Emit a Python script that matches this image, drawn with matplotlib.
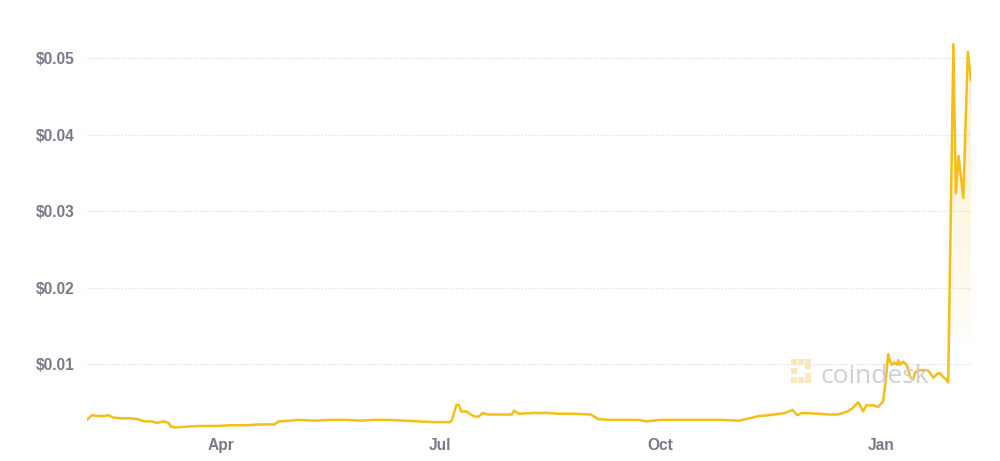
import numpy as np
import pandas as pd
import matplotlib
matplotlib.use("Agg")
import matplotlib.pyplot as plt
import matplotlib.dates as mdates
from matplotlib.patches import Rectangle
from matplotlib.ticker import FixedLocator, FuncFormatter

# price history
dates = [
    "2023-02-04", "2023-02-05", "2023-02-06", "2023-02-09", "2023-02-11", "2023-02-13",
    "2023-02-15", "2023-02-18", "2023-02-22", "2023-02-25", "2023-02-28", "2023-03-03",
    "2023-03-05", "2023-03-08", "2023-03-10", "2023-03-11", "2023-03-13", "2023-03-17",
    "2023-03-23", "2023-03-30", "2023-04-05", "2023-04-11", "2023-04-17", "2023-04-23",
    "2023-04-25", "2023-04-30", "2023-05-03", "2023-05-10", "2023-05-16", "2023-05-23",
    "2023-05-29", "2023-06-04", "2023-06-10", "2023-06-16", "2023-06-22", "2023-06-29",
    "2023-07-05", "2023-07-06", "2023-07-08", "2023-07-09", "2023-07-10", "2023-07-12",
    "2023-07-15", "2023-07-17", "2023-07-19", "2023-07-21", "2023-07-26", "2023-07-31",
    "2023-08-01", "2023-08-03", "2023-08-09", "2023-08-15", "2023-08-20", "2023-08-26",
    "2023-09-02", "2023-09-05", "2023-09-10", "2023-09-16", "2023-09-22", "2023-09-25",
    "2023-10-01", "2023-10-09", "2023-10-18", "2023-10-26", "2023-11-03", "2023-11-11",
    "2023-11-15", "2023-11-22", "2023-11-25", "2023-11-27", "2023-11-29", "2023-12-06",
    "2023-12-10", "2023-12-14", "2023-12-18", "2023-12-20", "2023-12-22 10:00",
    "2023-12-24 12:00", "2023-12-25 18:00", "2023-12-28 16:00", "2023-12-30 18:00",
    "2024-01-01 19:00", "2024-01-03 00:00", "2024-01-03 22:00", "2024-01-04 18:00",
    "2024-01-05 14:00", "2024-01-06 10:00", "2024-01-07 17:00", "2024-01-08 02:00",
    "2024-01-08 22:00", "2024-01-10 05:00", "2024-01-11 19:00", "2024-01-13 02:00",
    "2024-01-14 07:00", "2024-01-15 05:00", "2024-01-16 10:00", "2024-01-20 05:00",
    "2024-01-21 00:00", "2024-01-22 17:00", "2024-01-24 07:00", "2024-01-25 14:00",
    "2024-01-26 19:00", "2024-01-28 02:00", "2024-01-28 22:00", "2024-01-31 02:00",
    "2024-02-01 02:00", "2024-02-02 05:00", "2024-02-04 05:00", "2024-02-06 02:00",
    "2024-02-07 10:00",
]
prices = [
    0.0027, 0.0030, 0.0033, 0.0032, 0.0032, 0.0033,
    0.0030, 0.0029, 0.0029, 0.0028, 0.0025, 0.0025,
    0.0023, 0.0025, 0.0023, 0.0018, 0.0017, 0.0018,
    0.0019, 0.0019, 0.0020, 0.0020, 0.0021, 0.0021,
    0.0025, 0.0026, 0.0027, 0.0026, 0.0027, 0.0027,
    0.0026, 0.0027, 0.0027, 0.0026, 0.0025, 0.0024,
    0.0024, 0.0026, 0.0047, 0.0046, 0.0038, 0.0038,
    0.0032, 0.0031, 0.0036, 0.0034, 0.0034, 0.0034,
    0.0039, 0.0035, 0.0036, 0.0036, 0.0035, 0.0035,
    0.0034, 0.0028, 0.0027, 0.0027, 0.0027, 0.0025,
    0.0027, 0.0027, 0.0027, 0.0027, 0.0026, 0.0032,
    0.0033, 0.0036, 0.0040, 0.0033, 0.0036, 0.0035,
    0.0034, 0.0034, 0.0038, 0.0042, 0.0050,
    0.0038, 0.0046, 0.0046, 0.0044,
    0.0051, 0.0082, 0.0113, 0.0103,
    0.0099, 0.0102, 0.0099, 0.0105,
    0.0099, 0.0103, 0.0098, 0.0083,
    0.0080, 0.0089, 0.0092, 0.0092,
    0.0090, 0.0082, 0.0087, 0.0088,
    0.0083, 0.0080, 0.0076, 0.0518,
    0.0323, 0.0372, 0.0317, 0.0508,
    0.0471,
]
y_ticks = [0.01, 0.02, 0.03, 0.04, 0.05]

line_color = "#f6bd16"
label_color = "#767a89"

df = pd.DataFrame({"date": pd.to_datetime(dates, format="mixed"), "price": prices})

fig = plt.figure(figsize=(10, 4.61), dpi=100)
ax = fig.add_axes([0.087, 0.066, 0.884, 0.8496])

ax.plot(df["date"], df["price"], color=line_color, lw=1.8, solid_joinstyle="round", zorder=3)

# faint gradient fill under the line
fill = ax.fill_between(df["date"], df["price"], 0, color="none", lw=0)
x0, x1 = mdates.date2num(df["date"].iloc[0]), mdates.date2num(df["date"].iloc[-1])
grad = np.zeros((256, 1, 4))
grad[:, 0, :3] = matplotlib.colors.to_rgb(line_color)
grad[:, 0, 3] = np.linspace(0.11, 0.0, 256) ** 0.7
img = ax.imshow(grad, extent=[x0, x1, 0.012, 0.052], aspect="auto", origin="upper", zorder=2)
img.set_clip_path(fill.get_paths()[0], transform=ax.transData)

ax.set_xlim(df["date"].iloc[0], df["date"].iloc[-1])
ax.set_ylim(0.0013, 0.0525)

ax.yaxis.set_major_locator(FixedLocator(y_ticks))
ax.yaxis.set_major_formatter(FuncFormatter(lambda v, p: "${:.2f}".format(v)))
ax.xaxis.set_major_locator(mdates.MonthLocator(bymonth=[1, 4, 7, 10]))
ax.xaxis.set_major_formatter(mdates.DateFormatter("%b"))

ax.grid(axis="y", color="#d9dce6", lw=0.9, ls=(0, (1, 1.5)))
ax.grid(axis="x", visible=False)
for s in ax.spines.values():
    s.set_visible(False)
ax.tick_params(length=0, colors=label_color, labelsize=11.2)
ax.tick_params(axis="y", pad=9)
ax.tick_params(axis="x", pad=5)
for lab in ax.get_xticklabels() + ax.get_yticklabels():
    lab.set_fontfamily("Liberation Sans")
    lab.set_fontweight("bold")

# coindesk watermark
W, H = 1000, 461
dot = "#fbe7bd"
cells = [(0, 0), (1, 0), (2, 0), (0, 1), (0, 2), (1, 2), (2, 2), (2, 0.4), (2, 1.6)]
for cx, cy in cells:
    fig.add_artist(Rectangle(((791 + cx * 7) / W, 1 - (359 + cy * 9 + 6) / H),
                             5.5 / W, 6 / H, transform=fig.transFigure,
                             color=dot, lw=0, zorder=1))
fig.text(821 / W, 1 - 383 / H, "coindesk", fontsize=19, color="#cdd0d6",
         family="Open Sans", va="baseline", ha="left", zorder=1)

fig.savefig("out.png", dpi=100, facecolor="white")
